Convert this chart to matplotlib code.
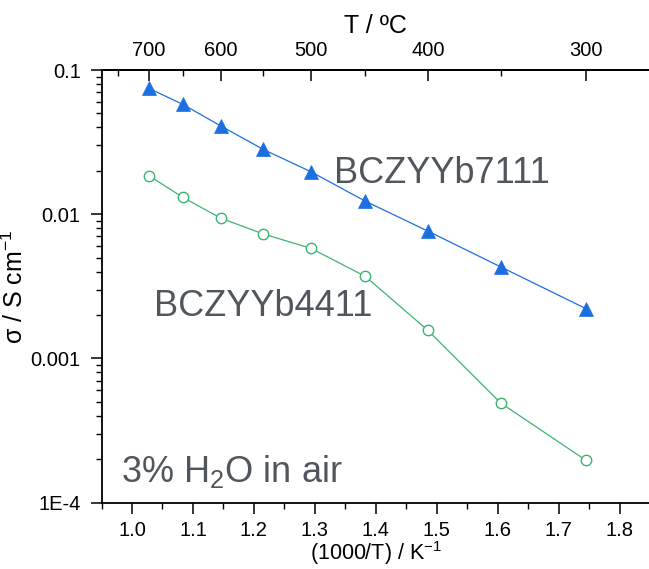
import numpy as np
import matplotlib
matplotlib.use("Agg")
import matplotlib.pyplot as plt
from matplotlib.ticker import (FixedLocator, MultipleLocator, LogLocator,
                               NullFormatter, FormatStrFormatter)

plt.rcParams['font.family'] = ['Liberation Sans', 'DejaVu Sans']
plt.rcParams['mathtext.fontset'] = 'custom'
plt.rcParams['mathtext.rm'] = 'Liberation Sans'
plt.rcParams['mathtext.it'] = 'Liberation Sans:italic'
plt.rcParams['mathtext.default'] = 'regular'

# Measurement temperatures (°C) and conductivities (S/cm)
temps_C = np.array([700, 650, 600, 550, 500, 450, 400, 350, 300])
sigma_7111 = [0.0746, 0.0578, 0.0410, 0.0282, 0.0197, 0.0123, 0.00762, 0.00431, 0.00221]
sigma_4411 = [0.0185, 0.0131, 0.0094, 0.0073, 0.0058, 0.0037, 0.00156, 0.00049, 0.000196]

y_ticks = [1e-4, 1e-3, 1e-2, 1e-1]
y_ticklabels = ['1E-4', '0.001', '0.01', '0.1']
top_major = [700, 600, 500, 400, 300]
top_minor = [750, 650, 550, 450, 350]

inv_T = 1000.0 / (temps_C + 273.15)

blue = '#1c6fe0'
green = '#3db571'
txt_gray = '#50565d'

W, H = 649, 569
fig = plt.figure(figsize=(W / 100, H / 100), dpi=100)
ax = fig.add_axes([101.5 / W, 66.5 / H, (650.2 - 101.5) / W, 432.5 / H])

ax.plot(inv_T, sigma_7111, '-^', color=blue, lw=0.9, ms=9.5,
        mfc=blue, mec=blue, mew=0.5, clip_on=False, zorder=3)
ax.plot(inv_T, sigma_4411, '-o', color=green, lw=0.9, ms=7.5,
        mfc='white', mec=green, mew=1.0, clip_on=False, zorder=3)

ax.set_yscale('log')
ax.set_ylim(1e-4, 0.1)
ax.set_xlim(0.95, 1.85)

ax.yaxis.set_major_locator(FixedLocator(y_ticks))
ax.set_yticklabels(y_ticklabels)
ax.yaxis.set_minor_locator(LogLocator(base=10, subs=np.arange(2, 10)))
ax.yaxis.set_minor_formatter(NullFormatter())

ax.xaxis.set_major_locator(MultipleLocator(0.1))
ax.xaxis.set_minor_locator(MultipleLocator(0.05))
ax.xaxis.set_major_formatter(FormatStrFormatter('%.1f'))

for sp in ['left', 'bottom', 'top']:
    ax.spines[sp].set_linewidth(1.3)
ax.spines['right'].set_visible(False)

ax.tick_params(which='major', direction='out', length=8, width=1.1,
               pad=7, labelsize=14.5, top=False, right=False)
ax.tick_params(which='minor', direction='out', length=4.5, width=1.0,
               top=False, right=False)
ax.tick_params(axis='x', which='major', pad=5)

ax.set_xlabel('(1000/T) / K$^{-1}$', fontsize=15.5, labelpad=0)
ax.set_ylabel('σ / S cm$^{-1}$', fontsize=18, labelpad=2)

# Temperature scale on top
sec = ax.secondary_xaxis('top', functions=(lambda x: 1000.0 / x - 273.15,
                                           lambda t: 1000.0 / (t + 273.15)))
sec.xaxis.set_major_locator(FixedLocator(top_major))
sec.xaxis.set_minor_locator(FixedLocator(top_minor))
sec.xaxis.set_minor_formatter(NullFormatter())
sec.xaxis.set_major_formatter(FormatStrFormatter('%d'))
sec.spines['top'].set_linewidth(1.3)
sec.tick_params(which='major', direction='in', length=8, width=1.1,
                pad=7, labelsize=14.5)
sec.tick_params(which='minor', direction='in', length=4.5, width=1.0)
sec.set_xlabel('T / ºC', fontsize=18, labelpad=6)

# Annotations
ax.text(0.424, 0.738, 'BCZYYb7111', transform=ax.transAxes, fontsize=26,
        color=txt_gray, ha='left', va='baseline')
ax.text(0.0957, 0.431, 'BCZYYb4411', transform=ax.transAxes, fontsize=26,
        color=txt_gray, ha='left', va='baseline')
ax.text(0.0355, 0.0467, '3% H$_2$O in air', transform=ax.transAxes, fontsize=26,
        color=txt_gray, ha='left', va='baseline')

fig.savefig('out.png', dpi=100)
